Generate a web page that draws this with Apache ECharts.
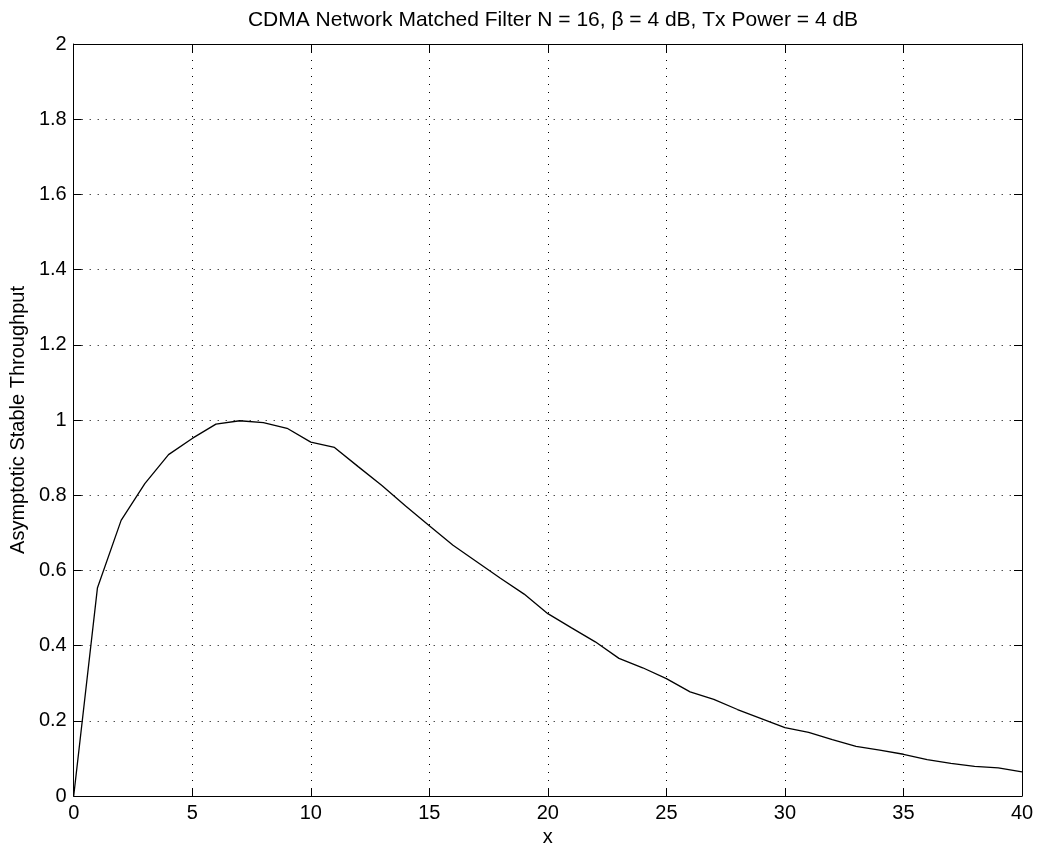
<!DOCTYPE html>
<html>
<head>
<meta charset="utf-8">
<script src="https://cdn.jsdelivr.net/npm/echarts@6/dist/echarts.min.js"></script>
<style>
html,body{margin:0;padding:0;background:#fff;}
#chart{width:1040px;height:853px;}
</style>
</head>
<body>
<div id="chart"></div>
<script>
const titleText = 'CDMA Network Matched Filter N = 16, \u03B2 = 4 dB, Tx Power = 4 dB';
const xName = 'x';
const yName = 'Asymptotic Stable Throughput';
const xValues = [0,1,2,3,4,5,6,7,8,9,10,11,12,13,14,15,16,17,18,19,20,21,22,23,24,25,26,27,28,29,30,31,32,33,34,35,36,37,38,39,40];
const throughput = [0,0.553,0.733,0.831,0.908,0.951,0.989,0.998,0.993,0.978,0.941,0.927,0.876,0.826,0.771,0.719,0.667,0.623,0.579,0.537,0.485,0.447,0.410,0.366,0.341,0.312,0.277,0.257,0.230,0.206,0.182,0.169,0.150,0.132,0.122,0.111,0.097,0.087,0.079,0.075,0.064];

const font = 'Liberation Sans, Arial, Helvetica, sans-serif';
const chart = echarts.init(document.getElementById('chart'), null, {renderer:'canvas'});
const data = xValues.map((x,i)=>[x, throughput[i]]);
const tickStyle = {show:true, inside:true, length:8, lineStyle:{color:'#000', width:1}};
const gridLine = {show:true, lineStyle:{color:'#000', type:[1,7], width:1}};
chart.setOption({
  animation:false,
  backgroundColor:'#fff',
  title:{text:titleText, left:548, top:5, textAlign:'center',
    textStyle:{fontFamily:font, fontSize:21, fontWeight:'normal', color:'#000'}},
  grid:{left:70, right:18, top:44, bottom:57, containLabel:false},
  xAxis:[{
    type:'value', min:0, max:40, interval:5, position:'bottom',
    name:xName, nameLocation:'middle', nameGap:31,
    nameTextStyle:{fontFamily:font, fontSize:20, color:'#000'},
    axisLine:{show:true, onZero:false, lineStyle:{color:'#000', width:1}},
    axisTick:tickStyle,
    axisLabel:{fontFamily:font, fontSize:20, color:'#000', margin:7},
    splitLine:gridLine
  },{
    type:'value', min:0, max:40, interval:5, position:'top',
    axisLine:{show:true, onZero:false, lineStyle:{color:'#000', width:1}},
    axisTick:tickStyle, axisLabel:{show:false}, splitLine:{show:false}
  }],
  yAxis:[{
    type:'value', min:0, max:2, interval:0.2, position:'left',
    name:yName, nameLocation:'middle', nameGap:42, nameRotate:90,
    nameTextStyle:{fontFamily:font, fontSize:20, color:'#000'},
    axisLine:{show:true, onZero:false, lineStyle:{color:'#000', width:1}},
    axisTick:tickStyle,
    axisLabel:{fontFamily:font, fontSize:20, color:'#000', margin:7},
    splitLine:gridLine
  },{
    type:'value', min:0, max:2, interval:0.2, position:'right',
    axisLine:{show:true, onZero:false, lineStyle:{color:'#000', width:1}},
    axisTick:tickStyle, axisLabel:{show:false}, splitLine:{show:false}
  }],
  series:[{
    type:'line', data:data, xAxisIndex:0, yAxisIndex:0,
    showSymbol:false, symbol:'none', smooth:false,
    lineStyle:{color:'#000', width:1.3}
  }]
});
</script>
</body>
</html>
